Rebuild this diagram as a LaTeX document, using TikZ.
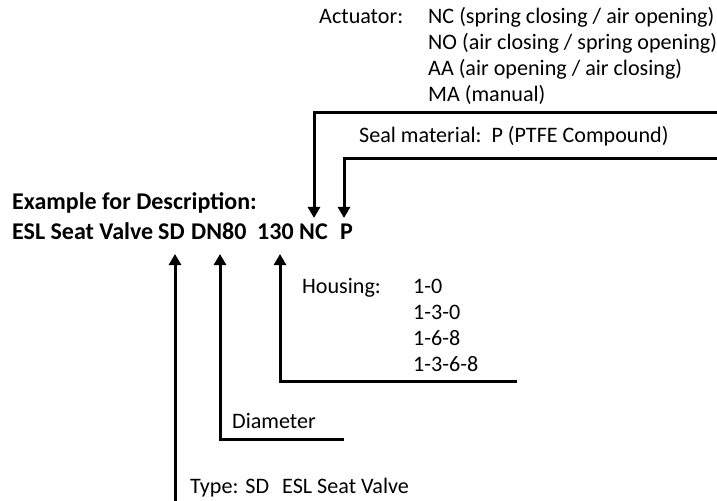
\documentclass[tikz,border=0pt]{standalone}
\usepackage{fontspec}
\setmainfont{Carlito}
\usetikzlibrary{arrows.meta,calc}
\begin{document}
\begin{tikzpicture}[x=1bp,y=-1bp,
  lbl/.style={anchor=base west,inner sep=0pt,font=\fontsize{22.1bp}{26bp}\selectfont},
  blbl/.style={anchor=base west,inner sep=0pt,font=\fontsize{24bp}{30bp}\selectfont\bfseries},
  conn/.style={line width=3bp,-{Triangle[width=12bp,length=11bp]}}]
\useasboundingbox (0,0) rectangle (717,501);
% example line
\node[blbl] (ex) at (12,210) {Example for Description:};
\node[blbl] (esl) at (12,240) {ESL Seat Valve};
\node[blbl] (sd) at (158,240) {SD};
\node[blbl] (dn) at (191,240) {DN80};
\node[blbl] (hs) at (257,240) {130};
\node[blbl] (nc) at (299,240) {NC};
\node[blbl] (p) at (340,240) {P};
% actuator
\node[lbl] (act) at (319,24) {Actuator:};
\node[lbl] (a1) at (428,24) {NC (spring closing / air opening)};
\node[lbl] (a2) at (428,50) {NO (air closing / spring opening)};
\node[lbl] (a3) at (428,76) {AA (air opening / air closing)};
\node[lbl] (a4) at (428,102) {MA (manual)};
% seal
\node[lbl] (seal) at (359,143) {Seal material:\ \ P (PTFE Compound)};
% housing
\node[lbl] (hou) at (302,293) {Housing:};
\node[lbl] (h1) at (413,293) {1-0};
\node[lbl] (h2) at (413,319) {1-3-0};
\node[lbl] (h3) at (413,345) {1-6-8};
\node[lbl] (h4) at (413,371) {1-3-6-8};
% diameter, type
\node[lbl] (dia) at (232,428) {Diameter};
\node[lbl] (typ) at (190,493) {Type:\hspace{7bp}SD\hspace{13bp}ESL Seat Valve};
% connector ends
\coordinate (actEnd) at (717,113);
\coordinate (sealEnd) at (717,159);
\coordinate (housEnd) at (517,381);
\coordinate (diaEnd) at (344,439);
\coordinate (typeEnd) at (175,501);
\coordinate (ncTip) at (314,218);
\coordinate (pTip) at (344,218);
\coordinate (hsTip) at (280,254);
\coordinate (dnTip) at (220,254);
\coordinate (sdTip) at (175,254);
\draw[conn] (actEnd) -| (ncTip);
\draw[conn] (sealEnd) -| (pTip);
\draw[conn] (housEnd) -| (hsTip);
\draw[conn] (diaEnd) -| (dnTip);
\draw[conn] (typeEnd) -- (sdTip);
\end{tikzpicture}
\end{document}
